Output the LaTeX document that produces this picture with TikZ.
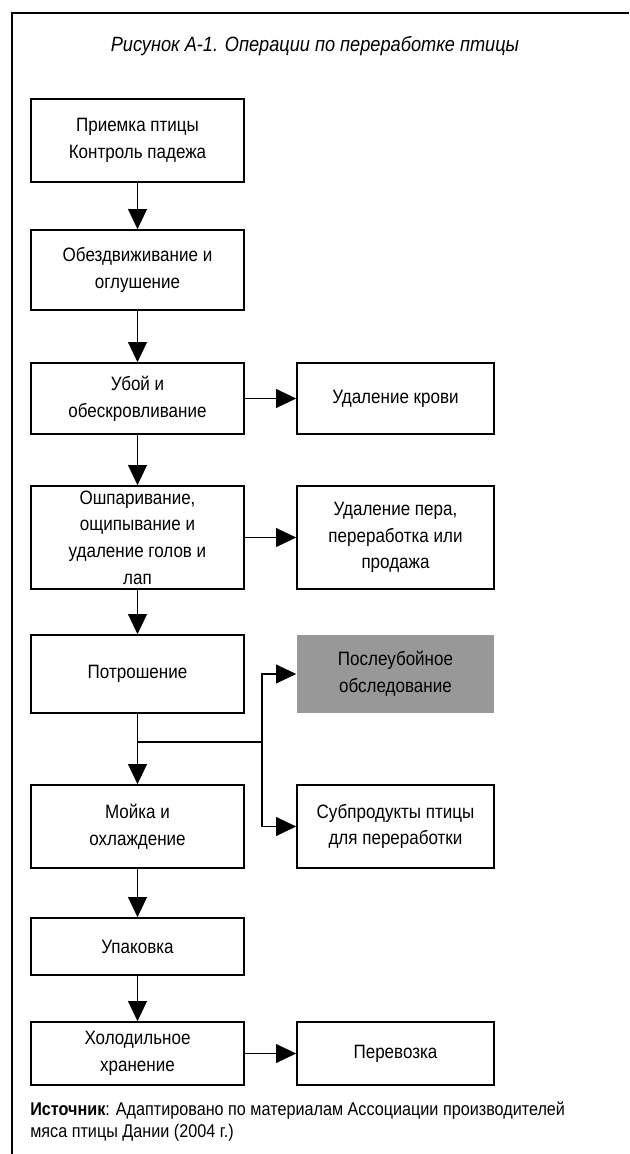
\documentclass[tikz,border=0pt]{standalone}
\usepackage{fontspec}
\setmainfont{Liberation Sans}[FakeStretch=0.88]
\usetikzlibrary{arrows.meta,positioning}
\definecolor{inspgray}{RGB}{152,152,152}
\tikzset{%
	stage/.style   = {draw, rectangle, line width=1.2pt, minimum width=159.75pt, inner sep=0pt, align=center, font=\fontsize{14.5}{20}\selectfont},
	sidebox/.style = {stage, minimum width=147.75pt},
	inspbox/.style = {sidebox, draw=none, fill=inspgray},
	flow/.style    = {line width=1.1pt, -{Triangle[length=15pt,width=14pt]}},
}
\begin{document}
\begin{tikzpicture}[x=0.75pt,y=-0.75pt]
		\useasboundingbox (0,0) rectangle (629,1154);
		\draw[line width=0.9pt] (12,1154) -- (12,13) -- (629,13);
		\node (title) at (315,46) {\fontsize{15.5}{18}\selectfont\itshape Рисунок А-1. Операции по переработке птицы};
		
		% main line
		\node[stage, minimum height=62.25pt] (priem) at (137.5,140.5) {Приемка птицы\\Контроль падежа};
		\node[stage, minimum height=60pt] (obezd) at (137.5,270) {Обездвиживание и\\оглушение};
		\node[stage, minimum height=53.25pt] (uboj) at (137.5,398.5) {Убой и\\обескровливание};
		\node[stage, minimum height=77.25pt] (oshpar) at (137.5,537.5) {Ошпаривание,\\ощипывание и\\удаление голов и\\лап};
		\node[stage, minimum height=58.5pt] (potr) at (137.5,674) {Потрошение};
		\node[stage, minimum height=62.25pt] (mojka) at (137.5,826.5) {Мойка и\\охлаждение};
		\node[stage, minimum height=42.75pt] (upak) at (137.5,946.5) {Упаковка};
		\node[stage, minimum height=47.25pt] (holod) at (137.5,1053.5) {Холодильное\\хранение};
		
		% side boxes
		\node[sidebox, minimum height=53.25pt] (krov) at (395.5,398.5) {Удаление крови};
		\node[sidebox, minimum height=77.25pt] (pero) at (395.5,537.5) {Удаление пера,\\переработка или\\продажа};
		\node[inspbox, minimum height=58.5pt] (posle) at (395.5,674) {Послеубойное\\обследование};
		\node[sidebox, minimum height=62.25pt] (subpr) at (395.5,826.5) {Субпродукты птицы\\для переработки};
		\node[sidebox, minimum height=47.25pt] (perev) at (395.5,1053.5) {Перевозка};
		
		\draw[flow] (priem) -- (obezd);
		\draw[flow] (obezd) -- (uboj);
		\draw[flow] (uboj) -- (oshpar);
		\draw[flow] (oshpar) -- (potr);
		\draw[flow] (mojka) -- (upak);
		\draw[flow] (upak) -- (holod);
		\draw[flow] (uboj) -- (krov);
		\draw[flow] (oshpar) -- (pero);
		\draw[flow] (holod) -- (perev);
		
		% branch after evisceration
		\coordinate (razv) at (137.5,742);
		\coordinate (vetv) at (262,742);
		\draw[line width=1.1pt] (potr) -- (razv) -- (vetv);
		\draw[flow] (razv) -- (mojka);
		\draw[flow] (vetv) |- (posle);
		\draw[flow] (vetv) |- (subpr);
		
		\node[anchor=north west, align=left, inner sep=0pt, font=\fontsize{13.8}{16}\selectfont] (istoch) at (30,1102) {\textbf{Источник}: Адаптировано по материалам Ассоциации производителей\\мяса птицы Дании (2004 г.)};
\end{tikzpicture}
\end{document}
